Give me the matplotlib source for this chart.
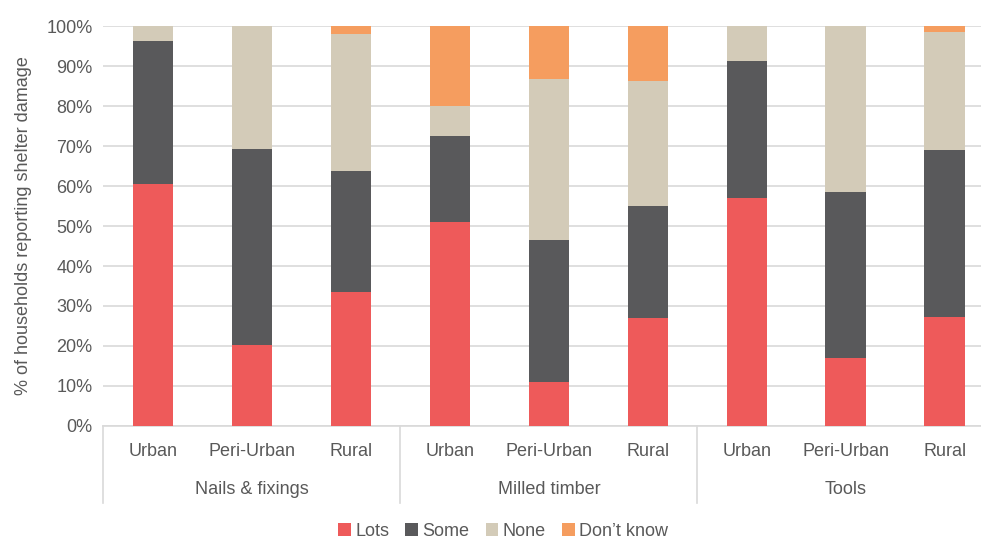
import matplotlib
matplotlib.use("Agg")
import matplotlib.pyplot as plt
from matplotlib import font_manager as fm
import numpy as np

# font: try a narrow sans like the reference, else Liberation Sans
fam = "Liberation Sans"
for cand in ["Liberation Sans Narrow", "Arial Narrow"]:
    try:
        p = fm.findfont(fm.FontProperties(family=cand), fallback_to_default=False)
        if p:
            fam = cand
            break
    except Exception:
        pass
plt.rcParams["font.family"] = [fam, "DejaVu Sans"]

groups = ["Nails & fixings", "Milled timber", "Tools"]
areas = ["Urban", "Peri-Urban", "Rural"]
series = ["Lots", "Some", "None", "Don\u2019t know"]

lots = [60.6, 20.3, 33.5, 51.1, 11.0, 27.0, 57.1, 17.1, 27.2]
some = [35.7, 48.9, 30.3, 21.3, 35.5, 28.1, 34.2, 41.3, 41.8]
none = [3.7, 30.8, 34.3, 7.5, 40.2, 31.1, 8.7, 41.6, 29.6]
dont_know = [0.0, 0.0, 1.9, 20.1, 13.3, 13.8, 0.0, 0.0, 1.4]

colors = ["#EE5A5A", "#59595B", "#D3CBB8", "#F59D5F"]
TXT = "#595959"
GRID = "#D9D9D9"
FS = 13

fig = plt.figure(figsize=(9.81, 5.44), dpi=100)
# plot area runs slightly past the right edge, as in the reference
ax = fig.add_axes([0.1055, 0.217, 0.908, 0.735])

x = np.arange(len(lots))
bottom = np.zeros(len(lots))
for vals, c, name in zip([lots, some, none, dont_know], colors, series):
    ax.bar(x, vals, bottom=bottom, width=0.41, color=c, label=name, zorder=3)
    bottom += np.array(vals)

ax.set_xlim(-0.5, len(lots) - 0.5)
ax.set_ylim(0, 100)
ax.set_yticks(range(0, 101, 10))
ax.set_yticklabels([f"{v}%" for v in range(0, 101, 10)], fontsize=FS, color=TXT)
ax.yaxis.grid(True, color=GRID, lw=1.2, zorder=0)
ax.set_axisbelow(True)
ax.tick_params(axis="y", length=0, pad=8)
ax.set_xticks([])
for s in ("top", "right", "left"):
    ax.spines[s].set_visible(False)
ax.spines["bottom"].set_color(GRID)
ax.spines["bottom"].set_linewidth(1.2)
ax.set_ylabel("% of households reporting shelter damage", fontsize=FS, color=TXT, labelpad=10)

# two-level category axis
trans = ax.get_xaxis_transform()
for i in range(len(lots)):
    ax.text(i, -0.065, areas[i % 3], transform=trans, ha="center", va="center",
            fontsize=FS, color=TXT)
for g, name in enumerate(groups):
    ax.text(g * 3 + 1, -0.16, name, transform=trans, ha="center", va="center",
            fontsize=FS, color=TXT)
for b in [-0.5, 2.5, 5.5]:
    ax.plot([b, b], [0, -0.192], transform=trans, color=GRID, lw=1.2, clip_on=False)

fig.legend(loc="lower center", bbox_to_anchor=(0.513, -0.022), ncol=4, frameon=False,
           fontsize=FS, handlelength=0.7, handleheight=0.7, handletextpad=0.25,
           columnspacing=0.9, labelcolor=TXT)

fig.savefig("out.png", dpi=100)
